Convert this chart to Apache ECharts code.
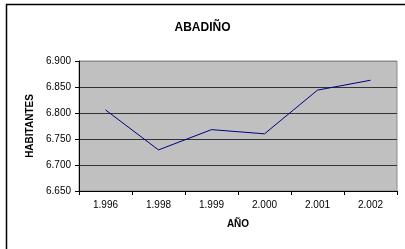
<!DOCTYPE html>
<html>
<head>
<meta charset="utf-8">
<script src="https://cdn.jsdelivr.net/npm/echarts@6/dist/echarts.min.js"></script>
<style>
html,body{margin:0;padding:0;background:#fff;}
#chart{width:405px;height:249px;}
</style>
</head>
<body>
<div id="chart"></div>
<script>
var anos = ['1.996','1.998','1.999','2.000','2.001','2.002'];
var habitantes = [6806, 6729, 6768, 6760, 6844, 6863];

// formato con punto de miles
function miles(v){
	var s = String(Math.round(v));
	return s.slice(0, s.length-3) + '.' + s.slice(-3);
}

var mycharts = echarts.init(document.getElementById('chart'));
var fuente = 'Liberation Sans, Arial, sans-serif';
var option = {
	animation:false,
	title:{
		text:'ABADIÑO',
		left:'center',
		top:17,
		textStyle:{fontFamily:fuente,fontSize:12,fontWeight:'bold',color:'#000'}
	},
	graphic:[{
		type:'polyline',
		shape:{points:[[6.5,260],[6.5,4.5],[410,4.5]]},
		style:{stroke:'#000',lineWidth:1.5,fill:null}
	}],
	grid:{
		left:79, right:8, top:61, bottom:58,
		show:true,
		backgroundColor:'#c0c0c0',
		borderColor:'#8c8c8c',
		borderWidth:1
	},
	xAxis:{
		type:'category',
		data:anos,
		boundaryGap:true,
		name:'AÑO',
		nameLocation:'middle',
		nameGap:28,
		nameTextStyle:{fontFamily:fuente,fontSize:10,fontWeight:'bold',color:'#000'},
		axisLine:{lineStyle:{color:'#000',width:1}},
		axisTick:{show:true,length:4,lineStyle:{color:'#000'}},
		axisLabel:{fontFamily:fuente,fontSize:10,color:'#000',margin:9}
	},
	yAxis:{
		type:'value',
		min:6650,
		max:6900,
		interval:50,
		name:'HABITANTES',
		nameLocation:'middle',
		nameGap:44,
		nameTextStyle:{fontFamily:fuente,fontSize:10,fontWeight:'bold',color:'#000'},
		axisLine:{show:true,lineStyle:{color:'#000',width:1}},
		axisTick:{show:true,length:4,lineStyle:{color:'#000'}},
		axisLabel:{fontFamily:fuente,fontSize:10,color:'#000',margin:8,formatter:miles},
		splitLine:{show:true,lineStyle:{color:['#000','#333','#333','#333','#333','#8c8c8c'],width:1}}
	},
	series:[{
		name:'HABITANTES',
		type:'line',
		data:habitantes,
		symbol:'none',
		lineStyle:{color:'#000080',width:1},
		itemStyle:{color:'#000080'}
	}]
};
mycharts.setOption(option);
</script>
</body>
</html>
